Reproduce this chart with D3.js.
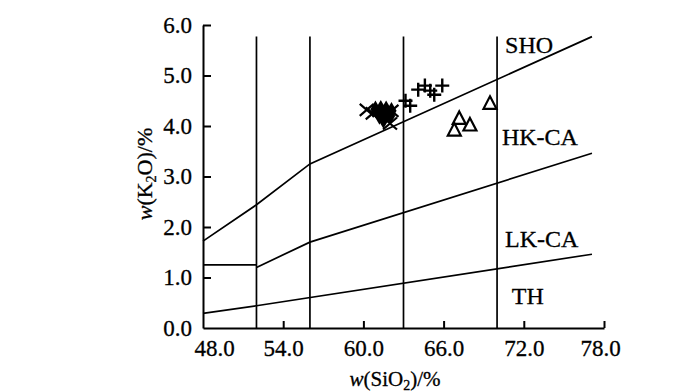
<!DOCTYPE html>
<html>
<head>
<meta charset="utf-8">
<script src="https://cdn.jsdelivr.net/npm/d3@7"></script>
<style>
  body { margin: 0; background: #fff; }
  svg text { font-family: "Liberation Serif", "Times New Roman", serif; fill: #000; stroke: #000; stroke-width: 0.3; }
</style>
</head>
<body>
<div id="chart"></div>
<script>
// tick values
var xTicks = [48, 54, 60, 66, 72, 78];
var yTicks = [0, 1, 2, 3, 4, 5, 6];

// field boundaries (SiO2, K2O)
var shoLine = [[48, 1.72], [52, 2.44], [56, 3.25], [77.1, 5.77]];
var hkStub = [[48, 1.25], [52, 1.25]];
var hkLine = [[52, 1.2], [56, 1.7], [77.1, 3.46]];
var thLine = [[48, 0.29], [52, 0.44], [77.1, 1.46]];
var dividers = [52, 56, 63, 70];
var dividerTop = 5.77;

// field labels
var fieldNames = ["SHO", "HK-CA", "LK-CA", "TH"];
var fieldX = [70.6, 70.36, 70.6, 71.1];
var fieldY = [5.45, 3.62, 1.61, 0.47];

// samples
var crossX = [60.25, 60.7, 61.2, 61.99, 62.1];
var crossY = [4.32, 4.25, 4.3, 4.05, 4.3];
var diamondX = [60.9, 61.3, 61.7, 62.1, 61.2, 61.6, 62.0, 61.5];
var diamondY = [4.33, 4.34, 4.33, 4.3, 4.2, 4.2, 4.2, 4.12];
var plusX = [63.15, 63.5, 64.1, 64.6, 65.0, 65.3, 65.9];
var plusY = [4.5, 4.4, 4.72, 4.8, 4.7, 4.62, 4.8];
var triX = [69.47, 67.17, 67.97, 66.8];
var triY = [4.45, 4.15, 4.02, 3.92];

var svg = d3.select("#chart").append("svg")
  .attr("width", 700)
  .attr("height", 392);

var x = d3.scaleLinear().domain([48, 78]).range([203, 604]);
var y = d3.scaleLinear().domain([0, 6]).range([328, 25]);

var line = d3.line()
  .x(function(d) { return x(d[0]); })
  .y(function(d) { return y(d[1]); });

svg.selectAll("line.divider")
  .data(dividers)
  .enter().append("line")
    .attr("class", "divider")
    .attr("x1", function(d) { return x(d); })
    .attr("x2", function(d) { return x(d); })
    .attr("y1", y(dividerTop))
    .attr("y2", y(0))
    .attr("stroke", "#000")
    .attr("stroke-width", 1.7);

svg.selectAll("path.bound")
  .data([shoLine, hkStub, hkLine, thLine])
  .enter().append("path")
    .attr("class", "bound")
    .attr("d", line)
    .attr("fill", "none")
    .attr("stroke", "#000")
    .attr("stroke-width", 1.7);

// axes
var xAxis = svg.append("g")
  .attr("transform", "translate(0," + y(0) + ")")
  .call(d3.axisBottom(x).tickValues(xTicks).tickSize(-7).tickSizeOuter(0)
    .tickPadding(12).tickFormat(d3.format(".1f")));
var yAxis = svg.append("g")
  .attr("transform", "translate(" + x(48) + ",0)")
  .call(d3.axisLeft(y).tickValues(yTicks).tickSize(-8).tickSizeOuter(0)
    .tickPadding(11).tickFormat(d3.format(".1f")));

[xAxis, yAxis].forEach(function(g) {
  g.selectAll("path, line").attr("stroke", "#000").attr("stroke-width", 2);
  g.selectAll("text").attr("font-size", 23)
    .style("font-family", "'Liberation Serif', serif").attr("fill", "#000");
});
xAxis.selectAll(".tick").filter(function(d) { return d === 48; }).select("line").remove();
yAxis.selectAll(".tick").filter(function(d) { return d === 0; }).select("line").remove();
// end labels sit a little inside the axis ends
xAxis.selectAll(".tick text").attr("dx", function(d) {
  return d === 48 ? 11 : d === 78 ? -4 : 0;
});

// field labels
svg.selectAll("text.field")
  .data(fieldNames)
  .enter().append("text")
    .attr("class", "field")
    .attr("x", function(d, i) { return x(fieldX[i]); })
    .attr("y", function(d, i) { return y(fieldY[i]); })
    .attr("font-size", 24)
    .text(function(d) { return d; });

// markers
svg.selectAll("path.cross")
  .data(crossX)
  .enter().append("path")
    .attr("class", "cross")
    .attr("transform", function(d, i) { return "translate(" + x(d) + "," + y(crossY[i]) + ")"; })
    .attr("d", "M-7,-6L7,6M-7,6L7,-6")
    .attr("stroke", "#000")
    .attr("stroke-width", 2.2);

svg.selectAll("path.diamond")
  .data(diamondX)
  .enter().append("path")
    .attr("class", "diamond")
    .attr("transform", function(d, i) { return "translate(" + x(d) + "," + y(diamondY[i]) + ")"; })
    .attr("d", d3.symbol().type(d3.symbolDiamond).size(90))
    .attr("fill", "#000");

svg.selectAll("path.plus")
  .data(plusX)
  .enter().append("path")
    .attr("class", "plus")
    .attr("transform", function(d, i) { return "translate(" + x(d) + "," + y(plusY[i]) + ")"; })
    .attr("d", "M-7,0L7,0M0,-7L0,7")
    .attr("stroke", "#000")
    .attr("stroke-width", 2.4);

svg.selectAll("path.tri")
  .data(triX)
  .enter().append("path")
    .attr("class", "tri")
    .attr("transform", function(d, i) { return "translate(" + x(d) + "," + y(triY[i]) + ")"; })
    .attr("d", "M0,-7L6.5,5.5L-6.5,5.5Z")
    .attr("fill", "none")
    .attr("stroke", "#000")
    .attr("stroke-width", 2.2);

// axis titles
var xt = svg.append("text")
  .attr("x", 395)
  .attr("y", 386)
  .attr("text-anchor", "middle")
  .attr("font-size", 21);
xt.append("tspan").attr("font-style", "italic").text("w");
xt.append("tspan").text("(SiO");
xt.append("tspan").attr("font-size", 14).attr("dy", 4).text("2");
xt.append("tspan").attr("dy", -4).text(")/%");

var yt = svg.append("text")
  .attr("transform", "translate(152,174) rotate(-90)")
  .attr("text-anchor", "middle")
  .attr("font-size", 22);
yt.append("tspan").attr("font-style", "italic").text("w");
yt.append("tspan").text("(K");
yt.append("tspan").attr("font-size", 14).attr("dy", 4).text("2");
yt.append("tspan").attr("dy", -4).text("O)/%");
</script>
</body>
</html>
